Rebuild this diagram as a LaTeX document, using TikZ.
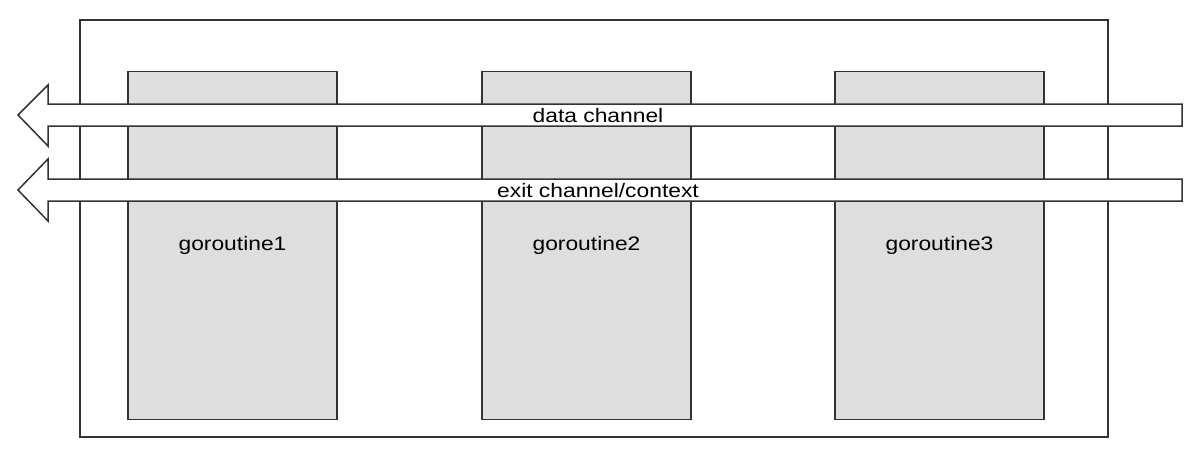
\documentclass[tikz,border=0pt]{standalone}
\usepackage{fontspec}
\setmainfont{Liberation Sans}[FakeStretch=1.17]
\usetikzlibrary{positioning}
\definecolor{linegray}{HTML}{333333}
\definecolor{boxgray}{HTML}{DEDEDE}
\tikzset{
  frame/.style={draw=linegray, line width=1.5pt, inner sep=0pt, outer sep=0pt,
    minimum width=1028pt, minimum height=417pt},
  worker/.style={draw=linegray, fill=boxgray, line width=1.5pt, inner sep=0pt,
    outer sep=0pt, minimum width=209pt, minimum height=348pt,
    font=\fontsize{19.5}{22}\selectfont},
  pipe/.style={draw=linegray, fill=white, line width=1.5pt},
  pipelabel/.style={inner sep=0pt, anchor=base,
    font=\fontsize{19.5}{22}\selectfont}
}
\begin{document}
\begin{tikzpicture}[x=1pt,y=-1pt]
    \useasboundingbox (0,0) rectangle (1200,452);

    % outer frame
    \node[frame] (outer) at (594,228.5) {};

    % goroutines
    \node[worker] (g1) at (232.5,245.5) {goroutine1};
    \node[worker, right=145pt of g1] (g2) {goroutine2};
    \node[worker, right=144pt of g2] (g3) {goroutine3};

    % channels
    \draw[pipe] (1182,104) -- (48,104) -- (48,85) -- (18,115)
        -- (48,146) -- (48,126) -- (1182,126) -- cycle;
    \draw[pipe] (1182,179) -- (48,179) -- (48,159) -- (18,190)
        -- (48,221) -- (48,201) -- (1182,201) -- cycle;

    \node[pipelabel] (datach) at (598,122) {data channel};
    \node[pipelabel] (exitch) at (598,197) {exit channel/context};
\end{tikzpicture}
\end{document}
